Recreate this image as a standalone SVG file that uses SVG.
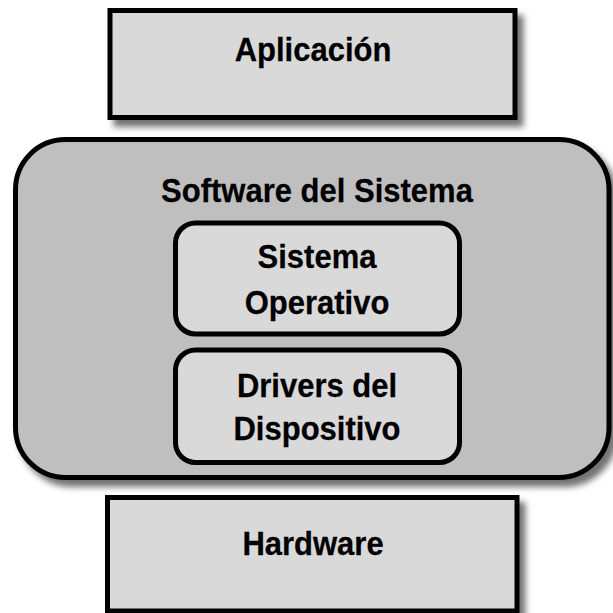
<svg xmlns="http://www.w3.org/2000/svg" width="613" height="613" viewBox="0 0 613 613">
  <defs>
    <filter id="shadow" x="-10%" y="-10%" width="125%" height="130%">
      <feDropShadow dx="6" dy="7" stdDeviation="3" flood-color="#000" flood-opacity="0.55"/>
    </filter>
    <style>
      .box { fill: #d9d9d9; stroke: #000; stroke-width: 5; }
      .container { fill: #bfbfbf; stroke: #000; stroke-width: 5; }
      .label { font-family: "Liberation Sans", Arial, sans-serif; font-weight: bold; font-size: 31px; fill: #000; text-anchor: middle; stroke: #000; stroke-width: 0.25px; }
    </style>
  </defs>
  <rect width="613" height="613" fill="#fff"/>

  <g id="aplicacion">
    <rect class="box" x="110" y="10.5" width="405" height="107" filter="url(#shadow)"/>
    <text class="label" transform="translate(313 61) scale(1 1.1)">Aplicación</text>
  </g>

  <g id="software-sistema">
    <rect class="container" x="15.5" y="139.5" width="593.5" height="338" rx="50" ry="50" filter="url(#shadow)"/>
    <text class="label" transform="translate(317 201.5) scale(1 1.1)">Software del Sistema</text>
  </g>

  <g id="sistema-operativo">
    <rect class="box" x="175.5" y="223" width="284" height="111" rx="20" ry="20"/>
    <text class="label" transform="translate(317 268) scale(1 1.1)">Sistema</text>
    <text class="label" transform="translate(317 314) scale(1 1.1)">Operativo</text>
  </g>

  <g id="drivers-dispositivo">
    <rect class="box" x="175.5" y="350" width="284" height="112.5" rx="20" ry="20"/>
    <text class="label" transform="translate(317 396.5) scale(1 1.1)">Drivers del</text>
    <text class="label" transform="translate(317 439.5) scale(1 1.1)">Dispositivo</text>
  </g>

  <g id="hardware">
    <rect class="box" x="107.5" y="497.5" width="409.5" height="113.5" filter="url(#shadow)"/>
    <text class="label" transform="translate(313 555) scale(1 1.1)">Hardware</text>
  </g>

  <g id="connectors"/>
</svg>
